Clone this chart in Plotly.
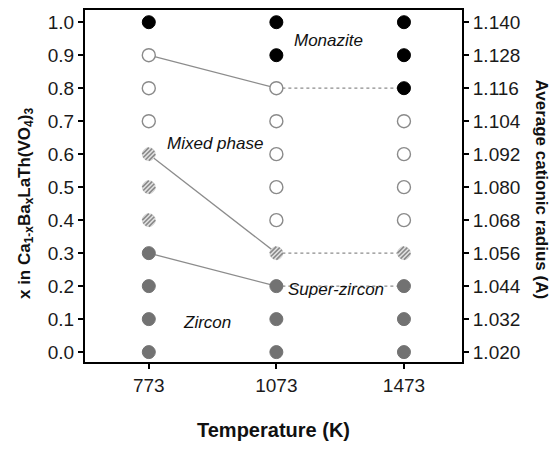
import math
import plotly.graph_objects as go

# Synthesis temperatures (K) and Ba fraction x in Ca(1-x)Ba(x)LaTh(VO4)3
temperatures = ["773", "1073", "1473"]
x_fraction = [0.0, 0.1, 0.2, 0.3, 0.4, 0.5, 0.6, 0.7, 0.8, 0.9, 1.0]

# Observed phase for each composition, one list per temperature
# Z = zircon, S = super-zircon (hatched), P = mixed phase, M = monazite
phases_773 = ["Z", "Z", "Z", "Z", "S", "S", "S", "P", "P", "P", "M"]
phases_1073 = ["Z", "Z", "Z", "S", "P", "P", "P", "P", "P", "M", "M"]
phases_1473 = ["Z", "Z", "Z", "S", "P", "P", "P", "P", "M", "M", "M"]

# Phase boundaries drawn between columns
boundary_monazite = [0.9, 0.8, 0.8]
boundary_mixed = [0.6, 0.3, 0.3]
boundary_zircon = [0.3, 0.2, 0.2]

# Right axis: average cationic radius for each x
radius_ticks = [1.020, 1.032, 1.044, 1.056, 1.068, 1.080, 1.092, 1.104, 1.116, 1.128, 1.140]

phase_table = [phases_773, phases_1073, phases_1473]

X_RANGE = [-0.5, 2.455]
Y_RANGE = [-0.03, 1.037]
MARGIN = dict(l=85, r=90, t=8, b=88)
W, H = 552, 450
px_x = (W - MARGIN["l"] - MARGIN["r"]) / (X_RANGE[1] - X_RANGE[0])
px_y = (H - MARGIN["t"] - MARGIN["b"]) / (Y_RANGE[1] - Y_RANGE[0])

GRAY = "#727272"
LINE_GRAY = "#8c8c8c"
MSIZE = 13

fig = go.Figure()

# Boundary lines: solid between 773 and 1073 K, dotted beyond
for b in (boundary_monazite, boundary_mixed, boundary_zircon):
    fig.add_trace(go.Scatter(x=[0, 1], y=b[:2], mode="lines",
                             line=dict(color=LINE_GRAY, width=1.3),
                             hoverinfo="skip", showlegend=False))
    fig.add_trace(go.Scatter(x=[1, 2], y=b[1:], mode="lines",
                             line=dict(color=LINE_GRAY, width=1.2, dash="dot"),
                             hoverinfo="skip", showlegend=False))

styles = {
    "Z": dict(color=GRAY, line=dict(color=GRAY, width=1)),
    "M": dict(color="black", line=dict(color="black", width=1)),
    "P": dict(color="white", line=dict(color="#8a8a8a", width=1.4)),
    "S": dict(color="#e4e4e4", line=dict(color="#c8c8c8", width=0.6)),
}

for code in ["Z", "M", "P", "S"]:
    xs, ys = [], []
    for i, col in enumerate(phase_table):
        for xv, ph in zip(x_fraction, col):
            if ph == code:
                xs.append(i)
                ys.append(xv)
    fig.add_trace(go.Scatter(x=xs, y=ys, mode="markers",
                             marker=dict(symbol="circle", size=MSIZE, **styles[code]),
                             hoverinfo="skip", showlegend=False))

# Diagonal hatching for the super-zircon markers
r = MSIZE / 2
for offset in (-4.6, -1.55, 1.55, 4.6):
    chord = 2 * math.sqrt(max(r * r - offset * offset, 0))
    size = chord / math.sqrt(2)
    dx = offset / math.sqrt(2) / px_x
    dy = -offset / math.sqrt(2) / px_y
    xs, ys = [], []
    for i, col in enumerate(phase_table):
        for xv, ph in zip(x_fraction, col):
            if ph == "S":
                xs.append(i + dx)
                ys.append(xv + dy)
    fig.add_trace(go.Scatter(x=xs, y=ys, mode="markers",
                             marker=dict(symbol="line-ne", size=size, color="#8a8a8a",
                                         line=dict(color="#8a8a8a", width=1.6)),
                             hoverinfo="skip", showlegend=False))

# invisible trace to activate the right-hand axis
fig.add_trace(go.Scatter(x=[None], y=[None], yaxis="y2", showlegend=False))

FONT = "Liberation Sans, Arial, sans-serif"
axis_common = dict(showline=True, linecolor="black", linewidth=2, ticks="outside",
                   ticklen=5, tickwidth=1.5, tickcolor="black", showgrid=False,
                   zeroline=False, tickfont=dict(family=FONT, size=19, color="#1a1a1a"))

fig.update_layout(
    width=W, height=H, margin=MARGIN,
    paper_bgcolor="white", plot_bgcolor="white",
    xaxis=dict(range=X_RANGE, tickvals=[0, 1, 2], ticktext=temperatures,
               mirror=True,
               title=dict(text="<b>Temperature (K)</b>", standoff=28,
                          font=dict(family=FONT, size=20, color="#111")),
               **axis_common),
    yaxis=dict(range=Y_RANGE, tickvals=x_fraction,
               ticktext=[f"{v:.1f}" for v in x_fraction], **axis_common),
    yaxis2=dict(overlaying="y", side="right", anchor="x",
                range=[1.020 + 0.12 * Y_RANGE[0], 1.020 + 0.12 * Y_RANGE[1]],
                tickvals=radius_ticks, ticktext=[f"{v:.3f}" for v in radius_ticks],
                **axis_common),
)

# Axis titles
fig.add_annotation(xref="paper", yref="paper", x=-0.158, y=0.45, xanchor="center", yanchor="middle",
                   text="<b>x in Ca<sub>1-x</sub>Ba<sub>x</sub>LaTh(VO<sub>4</sub>)<sub>3</sub></b>",
                   textangle=-90, showarrow=False, font=dict(family=FONT, size=17, color="#111"))
fig.add_annotation(xref="paper", yref="paper", x=1.212, y=0.49, xanchor="center", yanchor="middle",
                   text="<b>Average cationic radius (A)</b>",
                   textangle=90, showarrow=False, font=dict(family=FONT, size=17, color="#111"))

# Phase labels
for label, lx, ly in [("Monazite", 1.41, 0.946), ("Mixed phase", 0.52, 0.633),
                      ("Super-zircon", 1.47, 0.19), ("Zircon", 0.46, 0.09)]:
    fig.add_annotation(x=lx, y=ly, text=f"<i>{label}</i>", showarrow=False,
                       font=dict(family=FONT, size=17, color="#111"))

fig.write_html("out.html")
